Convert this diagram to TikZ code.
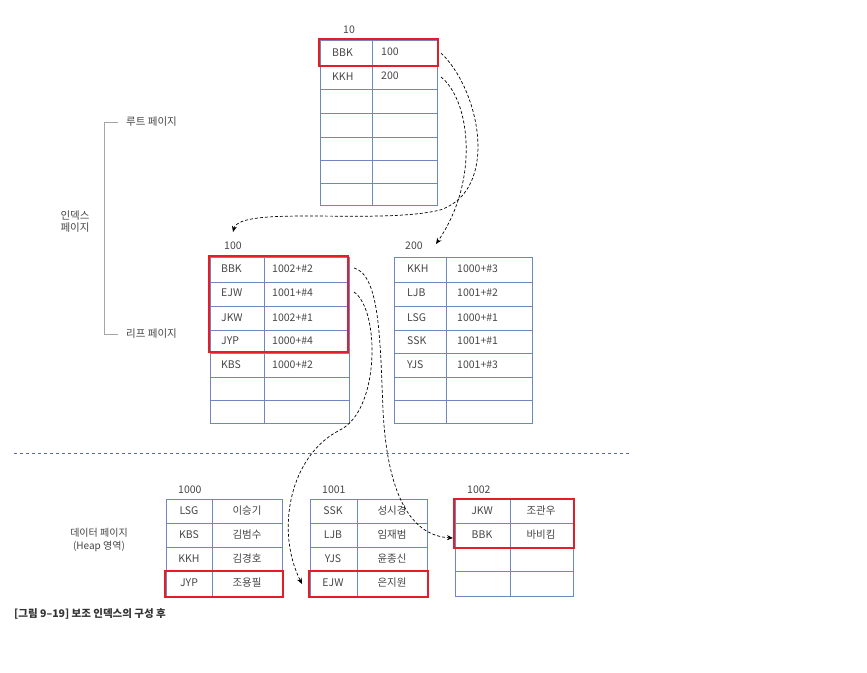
\documentclass[tikz,border=0pt]{standalone}
\usepackage{fontspec}
\setmainfont{Noto Sans CJK KR}
\usetikzlibrary{arrows.meta}
\definecolor{tb}{RGB}{110,135,190}
\definecolor{rd}{RGB}{228,30,40}
\definecolor{tx}{RGB}{70,70,70}
\begin{document}
\begin{tikzpicture}[x=1pt,y=-1pt,font=\fontsize{10.5}{12}\selectfont,text=tx,
  grid/.style={draw=tb,line width=1pt},
  hl/.style={draw=rd,line width=1.6pt},
  lnk/.style={densely dashed,line width=0.7pt,-{Stealth[length=6pt,width=5pt]}},
  lbl/.style={anchor=west,inner sep=0pt}]
\useasboundingbox (0,0) rectangle (867,672);
% root page
\node[lbl] (t10) at (343,30) {10};
\draw[grid] (320,40) rectangle (437,205) (372,40) -- (372,205);
\foreach \y in {65,89,113,137,160,183} \draw[grid] (320,\y) -- (437,\y);
\node[lbl] at (332,53) {BBK}; \node[lbl] at (381,52) {100};
\node[lbl] at (332,77) {KKH}; \node[lbl] at (381,76) {200};
\draw[hl] (319,39) rectangle (438,66);
\coordinate (r1) at (441,53); \coordinate (r2) at (441,77);
% leaf 100
\node[lbl] (t100) at (224,246) {100};
\draw[grid] (210,257) rectangle (349,423) (264,257) -- (264,423);
\foreach \y in {282,306,330,353,377,400} \draw[grid] (210,\y) -- (349,\y);
\foreach \a/\b/\y in {BBK/1002+\#2/269,EJW/1001+\#4/293,JKW/1002+\#1/318,JYP/1000+\#4/341,KBS/1000+\#2/365}
 {\node[lbl] at (221,\y) {\a}; \node[lbl] at (272,\y) {\b};}
\draw[hl] (209,256) rectangle (348,352);
\coordinate (l1) at (354,268); \coordinate (l2) at (354,292);
\coordinate (a100) at (233,232);
% leaf 200
\node[lbl] (t200) at (405,246) {200};
\draw[grid] (394,257) rectangle (532,423) (446,257) -- (446,423);
\foreach \y in {282,306,330,353,377,400} \draw[grid] (394,\y) -- (532,\y);
\foreach \a/\b/\y in {KKH/1000+\#3/269,LJB/1001+\#2/293,LSG/1000+\#1/318,SSK/1001+\#1/341,YJS/1001+\#3/365}
 {\node[lbl] at (407,\y) {\a}; \node[lbl] at (457,\y) {\b};}
\coordinate (a200) at (436,244);
% separator
\draw[tb!80!black,dashed,line width=0.8pt] (14,453) -- (630,453);
% data pages
\node[lbl] at (178,490) {1000};
\draw[grid] (166,499) rectangle (282,596) (212,499) -- (212,596);
\foreach \y in {523,547,571} \draw[grid] (166,\y) -- (282,\y);
\foreach \a/\b/\y in {LSG/이승기/511,KBS/김범수/535,KKH/김경호/559,JYP/조용필/583}
 {\node at (189,\y) {\a}; \node at (247,\y) {\b};}
\draw[hl] (165,571) rectangle (283,597);
\node[lbl] at (322,490) {1001};
\draw[grid] (310,499) rectangle (427,596) (357,499) -- (357,596);
\foreach \y in {523,547,571} \draw[grid] (310,\y) -- (427,\y);
\foreach \a/\b/\y in {SSK/성시경/511,LJB/임재범/535,YJS/윤종신/559,EJW/은지원/583}
 {\node at (333,\y) {\a}; \node at (392,\y) {\b};}
\draw[hl] (309,571) rectangle (428,597);
\node[lbl] at (467,490) {1002};
\draw[grid] (455,499) rectangle (573,596) (510,499) -- (510,596);
\foreach \y in {523,547,571} \draw[grid] (455,\y) -- (573,\y);
\foreach \a/\b/\y in {JKW/조관우/511,BBK/바비킴/535}
 {\node at (482,\y) {\a}; \node at (541,\y) {\b};}
\draw[hl] (454,499) rectangle (574,548);
\coordinate (d1) at (453,538); \coordinate (d2) at (302,584);
% side labels
\draw[gray!70,line width=0.8pt] (118,122) -- (104,122) -- (104,334) -- (118,334);
\node[lbl] (lroot) at (126,122) {루트 페이지};
\node[lbl] (lleaf) at (126,334) {리프 페이지};
\node[align=center] (lidx) at (75,222) {인덱스\\페이지};
\node[align=center,font=\fontsize{10}{13}\selectfont] (ldata) at (99,540) {데이터 페이지\\(Heap 영역)};
\node[lbl,font=\fontsize{10.5}{12}\selectfont\bfseries,text=black!80] (cap) at (14,614) {[그림 9–19] 보조 인덱스의 구성 후};
% links
\draw[lnk] (r1) .. controls (480,90) and (500,190) .. (440,210) .. controls (380,225) and (240,205) .. (a100);
\draw[lnk] (r2) .. controls (470,100) and (480,180) .. (a200);
\draw[lnk] (l1) .. controls (380,275) and (380,340) .. (383,410) .. controls (386,470) and (400,535) .. (d1);
\draw[lnk] (l2) .. controls (380,310) and (380,410) .. (340,430) .. controls (290,455) and (275,530) .. (d2);
\end{tikzpicture}
\end{document}
